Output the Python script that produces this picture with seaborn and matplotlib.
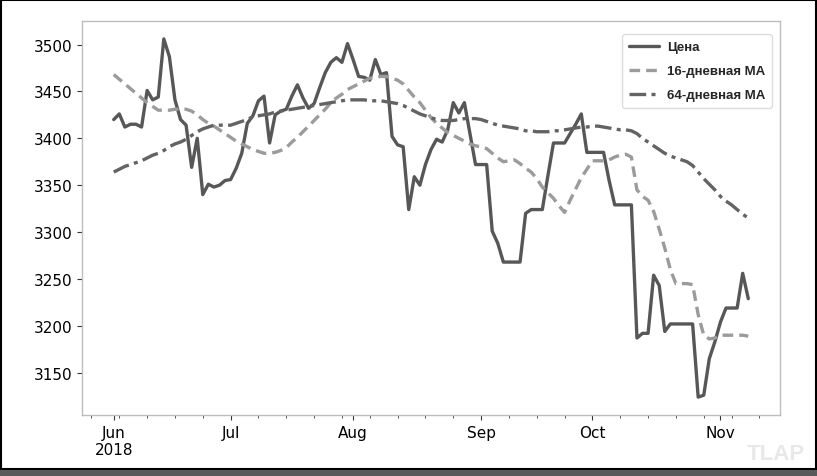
import matplotlib
matplotlib.use("Agg")
import matplotlib.pyplot as plt
import numpy as np
import pandas as pd
import seaborn as sns
from matplotlib.patches import Rectangle


# business days, Jun 1 - Nov 8 2018
dates = pd.bdate_range("2018-06-01", "2018-11-08")

price = [
    3420, 3426, 3412, 3415, 3415, 3412, 3451, 3441, 3444, 3506,
    3487, 3441, 3420, 3414, 3369, 3400, 3340, 3351, 3348, 3350,
    3355, 3356, 3368, 3384, 3416, 3424, 3440, 3445, 3395, 3425,
    3429, 3431, 3445, 3457, 3443, 3432, 3437, 3454, 3470, 3481,
    3486, 3481, 3501, 3484, 3466, 3465, 3462, 3484, 3468, 3470,
    3402, 3393, 3391, 3324, 3359, 3350, 3372, 3388, 3399, 3396,
    3409, 3438, 3427, 3438, 3405, 3372, 3372, 3372, 3301, 3288,
    3268, 3268, 3268, 3268, 3320, 3324, 3324, 3324, 3360, 3395,
    3395, 3395, 3405, 3415, 3426, 3385, 3385, 3385, 3385, 3355,
    3329, 3329, 3329, 3329, 3187, 3192, 3192, 3254, 3243, 3194,
    3202, 3202, 3202, 3202, 3202, 3124, 3126, 3165, 3183, 3204,
    3219, 3219, 3219, 3256, 3229,
]

ma16 = [
    3468, 3463, 3458, 3453, 3448, 3443, 3438, 3434, 3430, 3430,
    3430, 3431, 3431, 3431, 3429, 3425, 3420, 3416, 3413, 3409,
    3405, 3401, 3397, 3394, 3391, 3388, 3386, 3384, 3384, 3385,
    3387, 3390, 3396, 3401, 3407, 3413, 3419, 3425, 3431, 3438,
    3443, 3447, 3452, 3455, 3458, 3461, 3464, 3465, 3466, 3466,
    3464, 3462, 3458, 3451, 3444, 3438, 3430, 3422, 3416, 3411,
    3406, 3403, 3400, 3397, 3394, 3392, 3391, 3389, 3384, 3379,
    3375, 3376, 3377, 3373, 3368, 3364, 3357, 3348, 3342, 3336,
    3328, 3321, 3334, 3346, 3358, 3367, 3376, 3376, 3376, 3377,
    3380, 3382, 3383, 3380, 3345, 3338, 3334, 3322, 3303, 3283,
    3260, 3245, 3245, 3245, 3244, 3212, 3190, 3186, 3187, 3190,
    3190, 3190, 3190, 3190, 3189,
]

ma64 = [
    3364, 3367, 3370, 3372, 3374, 3376, 3379, 3382, 3384, 3387,
    3391, 3394, 3396, 3399, 3403, 3407, 3410, 3412, 3414, 3414,
    3414, 3414, 3416, 3418, 3420, 3423, 3424, 3425, 3426, 3428,
    3429, 3430, 3431, 3432, 3433, 3434, 3435, 3436, 3437, 3438,
    3439, 3440, 3441, 3441, 3441, 3441, 3440, 3440, 3440, 3439,
    3438, 3437, 3435, 3432, 3429, 3426, 3424, 3422, 3420, 3419,
    3419, 3419, 3420, 3421, 3421, 3421, 3420, 3418, 3416, 3414,
    3413, 3412, 3411, 3410, 3408, 3408, 3407, 3407, 3407, 3408,
    3408, 3409, 3410, 3411, 3412, 3412, 3413, 3413, 3412, 3411,
    3410, 3409, 3409, 3408, 3405, 3400, 3396, 3392, 3388, 3384,
    3381, 3379, 3377, 3375, 3371, 3364, 3357, 3351, 3345, 3338,
    3333, 3329, 3324, 3319, 3315,
]

labels = ["Цена", "16-дневная MA", "64-дневная MA"]

sns.set_style("white")

pos = np.arange(len(dates))
df = pd.DataFrame({"pos": pos, "price": price, "ma16": ma16, "ma64": ma64})

fig = plt.figure(figsize=(8.17, 4.77), dpi=100)
ax = fig.add_axes([82 / 817, 1 - 416 / 477, 698 / 817, 394 / 477])

sns.lineplot(data=df, x="pos", y="price", ax=ax, color="#575757",
             linewidth=2.4, label=labels[0])
sns.lineplot(data=df, x="pos", y="ma16", ax=ax, color="#9b9b9b",
             linewidth=2.4, linestyle=(0, (3.2, 1.8)), label=labels[1])
sns.lineplot(data=df, x="pos", y="ma64", ax=ax, color="#636363",
             linewidth=2.4, linestyle=(0, (5, 1.6, 1.2, 1.6)), label=labels[2])

ax.margins(y=0.05)
ax.set_xlabel("")
ax.set_ylabel("")

# pandas-like business day axis: months major, mondays minor
ext = pd.bdate_range("2018-05-21", "2018-11-16")
ext_pos = np.array([np.busday_count(dates[0].date(), d.date()) for d in ext])
month_start = [p for p, d, prev in zip(ext_pos[1:], ext[1:], ext[:-1]) if d.month != prev.month]
month_lbl = [d.strftime("%b") for d, prev in zip(ext[1:], ext[:-1]) if d.month != prev.month]
month_lbl[0] = month_lbl[0] + "\n2018"
week_start = [p for p, d in zip(ext_pos, ext) if d.weekday() == 0 and p not in month_start]

ax.set_xticks(month_start)
ax.set_xticklabels(month_lbl)
ax.set_xticks(week_start, minor=True)
ax.set_xlim(-0.05 * 114, 114 * 1.05)

ax.tick_params(axis="both", which="major", labelsize=11, length=3.5, width=0.8,
               color="#333333", labelcolor="black", bottom=True, left=True)
ax.tick_params(axis="x", which="minor", length=2, width=0.6, color="#333333",
               bottom=True)
for sp in ax.spines.values():
    sp.set_color("#bdbdbd")
    sp.set_linewidth(1.0)

leg = ax.legend(loc="upper right", bbox_to_anchor=(0.9885, 0.966), borderaxespad=0,
                prop={"family": "Liberation Sans", "weight": "bold", "size": 9.5},
                handlelength=2.3, handletextpad=0.6, labelspacing=0.9, borderpad=0.5,
                frameon=True, fancybox=True, framealpha=1, edgecolor="#dddddd")

fig.text(0.985, 0.025, "TLAP", ha="right", va="bottom", color="#e8e8e8",
         fontsize=16, fontweight="bold", family="Liberation Sans")

# outer frame of the screenshot
fig.patches.append(Rectangle((1 / 817, 7 / 477), 815 / 817, 469 / 477,
                             transform=fig.transFigure, fill=False,
                             edgecolor="black", linewidth=1.5))
fig.patches.append(Rectangle((0, 0), 1, 6 / 477, transform=fig.transFigure,
                             facecolor="#5a5a5a", edgecolor="none"))

fig.savefig("out.png", dpi=100)
